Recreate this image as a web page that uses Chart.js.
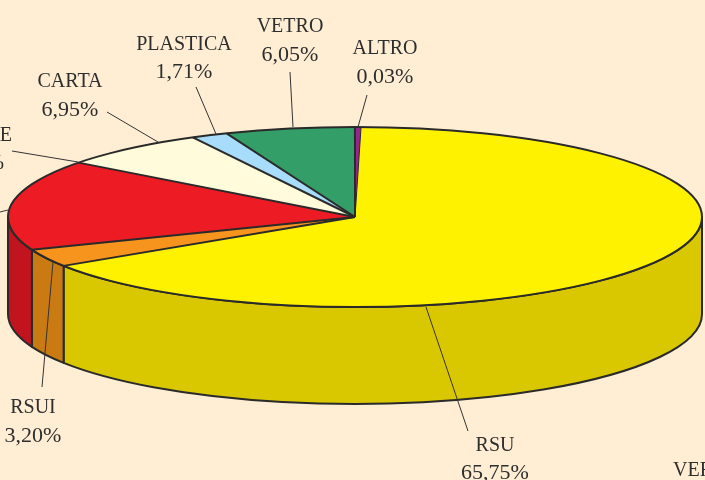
<!DOCTYPE html>
<html>
<head>
<meta charset="utf-8">
<style>
  html, body { margin: 0; padding: 0; background: #ffeed4; overflow: hidden; }
  canvas { display: block; }
</style>
<script src="https://cdn.jsdelivr.net/npm/chart.js@4"></script>
</head>
<body>
<canvas id="wasteChart" width="705" height="480"></canvas>
<script>
// ---- data ----
var categories = ["RSU", "RSUI", "n.d.", "CARTA", "PLASTICA", "VETRO", "ALTRO"];
// slice shares as drawn (ALTRO is printed 0,03% but drawn as a visible sliver)
var shares = [65.75, 3.20, 16.31, 6.95, 1.71, 6.05, 0.28];
var topColors  = ["#fff200", "#f7941d", "#ed1c24", "#fffbdb", "#a8dcfb", "#339e68", "#92278f"];
var wallColors = ["#d9c800", "#c97a12", "#c1141e", "#d9d4b0", "#8bb8d2", "#2a8356", "#7a1f78"];

// ---- printed labels ----
var labelLines = [
  ["PLASTICA", "1,71%"],
  ["VETRO", "6,05%"],
  ["ALTRO", "0,03%"],
  ["CARTA", "6,95%"],
  ["RSUI", "3,20%"],
  ["RSU", "65,75%"]
];

// ---- layout of the tilted pie and its annotations ----
var pie = { x: 355, y: 217, rx: 347, ry: 90, depth: 97 };
var labelSpots = [[184, 45, 72], [290, 27, 55], [385, 49, 77], [70, 82, 110], [33, 408, 436], [495, 446, 473]];
var leaders = [
  [196, 87, 216, 134], [290, 72, 293, 127], [367, 95, 358, 127], [107, 112, 158, 142],
  [53, 262, 42, 387], [426, 307, 468, 431], [12, 151, 78, 162], [0, 212, 8, 210]
];
var ink = "#2a2a2a";
var textInk = "#2e2e2e";

function rimPoint(a) {
  return [pie.x + pie.rx * Math.cos(a), pie.y + pie.ry * Math.sin(a)];
}

var tiltedPie = {
  id: "tiltedPie",
  beforeDatasetsDraw: function (chart) {
    var ctx = chart.ctx;
    var arcs = chart.getDatasetMeta(0).data;

    // side wall: only the front half of the rim shows
    ctx.save();
    ctx.lineWidth = 2;
    ctx.strokeStyle = ink;
    ctx.lineJoin = "round";
    arcs.forEach(function (arc, i) {
      var lo = Math.max(arc.startAngle, 0);
      var hi = Math.min(arc.endAngle, Math.PI);
      if (hi <= lo) return;
      ctx.beginPath();
      ctx.ellipse(pie.x, pie.y, pie.rx, pie.ry, 0, lo, hi);
      ctx.ellipse(pie.x, pie.y + pie.depth, pie.rx, pie.ry, 0, hi, lo, true);
      ctx.closePath();
      ctx.fillStyle = wallColors[i];
      ctx.fill();
      ctx.stroke();
    });
    ctx.restore();

    // squash the library's round arcs into the top ellipse
    var first = arcs[0];
    ctx.save();
    ctx.translate(pie.x, pie.y);
    ctx.scale(pie.rx / first.outerRadius, pie.ry / first.outerRadius);
    ctx.translate(-first.x, -first.y);
  },
  afterDatasetsDraw: function (chart) {
    var ctx = chart.ctx;
    var arcs = chart.getDatasetMeta(0).data;
    ctx.restore();

    // outlines are stroked unsquashed so they keep an even weight
    ctx.save();
    ctx.strokeStyle = ink;
    ctx.lineWidth = 2;
    ctx.beginPath();
    ctx.ellipse(pie.x, pie.y, pie.rx, pie.ry, 0, 0, Math.PI * 2);
    ctx.stroke();
    arcs.forEach(function (arc, i) {
      var p = rimPoint(arc.startAngle);
      // the seam next to the purple sliver is hairline in the original
      ctx.lineWidth = i === 0 ? 1 : 2;
      ctx.beginPath();
      ctx.moveTo(pie.x, pie.y);
      ctx.lineTo(p[0], p[1]);
      ctx.stroke();
    });

    // leader lines
    ctx.lineWidth = 1;
    ctx.strokeStyle = "#333333";
    leaders.forEach(function (l) {
      ctx.beginPath();
      ctx.moveTo(l[0], l[1]);
      ctx.lineTo(l[2], l[3]);
      ctx.stroke();
    });

    // labels: names are set a little smaller than the percentages
    var nameFont = "20px 'Liberation Serif'";
    var valueFont = "22px 'Liberation Serif'";
    ctx.fillStyle = textInk;
    ctx.textBaseline = "middle";
    ctx.textAlign = "center";
    labelLines.forEach(function (lines, i) {
      ctx.font = nameFont;
      ctx.fillText(lines[0], labelSpots[i][0], labelSpots[i][1]);
      ctx.font = valueFont;
      ctx.fillText(lines[1], labelSpots[i][0], labelSpots[i][2]);
    });
    // labels that run off the edge of the crop
    ctx.textAlign = "right";
    ctx.font = nameFont;
    ctx.fillText("E", 12, 136);
    ctx.font = valueFont;
    ctx.fillText("%", 4, 163);
    ctx.textAlign = "left";
    ctx.font = nameFont;
    ctx.fillText("VERDE", 673, 471);
    ctx.restore();
  }
};

new Chart(document.getElementById("wasteChart"), {
  type: "pie",
  data: {
    labels: categories,
    datasets: [{
      data: shares,
      backgroundColor: topColors,
      borderWidth: 0,
      hoverOffset: 0
    }]
  },
  options: {
    responsive: false,
    animation: false,
    rotation: 1.0,
    plugins: {
      legend: { display: false },
      tooltip: { enabled: false }
    }
  },
  plugins: [tiltedPie]
});
</script>
</body>
</html>
